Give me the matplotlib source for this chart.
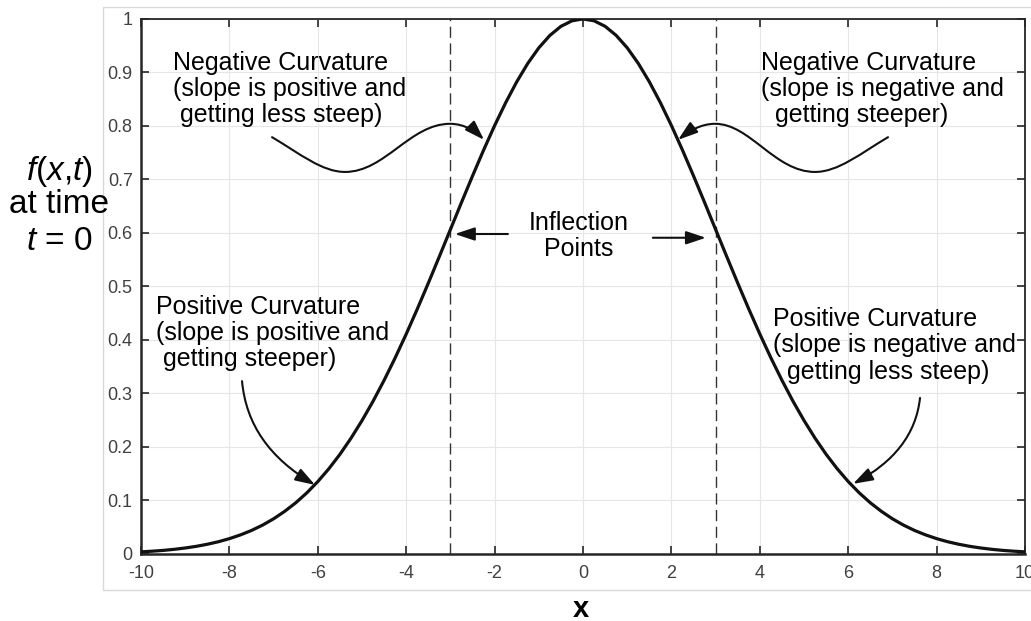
import numpy as np
import matplotlib
matplotlib.use('Agg')
import matplotlib.pyplot as plt
from matplotlib.patches import FancyArrowPatch, Rectangle
from matplotlib.path import Path

plt.rcParams['font.family'] = ['Liberation Sans', 'DejaVu Sans']
plt.rcParams['mathtext.fontset'] = 'custom'
plt.rcParams['mathtext.rm'] = 'Liberation Sans'
plt.rcParams['mathtext.it'] = 'Liberation Sans:italic'
plt.rcParams['axes.unicode_minus'] = False

# courbe f(x, t=0) lue sur la figure, pas de 0.25
x_vals = np.linspace(-10, 10, 81)
f_vals = [0.0039, 0.0051, 0.0066, 0.0086, 0.0111, 0.0142, 0.0181, 0.0228,
          0.0286, 0.0356, 0.0439, 0.0539, 0.0657, 0.0796, 0.0956, 0.1141,
          0.1353, 0.1593, 0.1862, 0.2163, 0.2494, 0.2855, 0.3247, 0.3666,
          0.4111, 0.4578, 0.5063, 0.5561, 0.6065, 0.6570, 0.7066, 0.7548,
          0.8007, 0.8435, 0.8825, 0.9169, 0.9460, 0.9692, 0.9862, 0.9965,
          1.0000,
          0.9965, 0.9862, 0.9692, 0.9460, 0.9169, 0.8825, 0.8435, 0.8007,
          0.7548, 0.7066, 0.6570, 0.6065, 0.5561, 0.5063, 0.4578, 0.4111,
          0.3666, 0.3247, 0.2855, 0.2494, 0.2163, 0.1862, 0.1593, 0.1353,
          0.1141, 0.0956, 0.0796, 0.0657, 0.0539, 0.0439, 0.0356, 0.0286,
          0.0228, 0.0181, 0.0142, 0.0111, 0.0086, 0.0066, 0.0051, 0.0039]

inflexion_x = [-3, 3]

xticks = [-10, -8, -6, -4, -2, 0, 2, 4, 6, 8, 10]
xtick_labels = ['-10', '-8', '-6', '-4', '-2', '0', '2', '4', '6', '8', '10']
yticks = [0, 0.1, 0.2, 0.3, 0.4, 0.5, 0.6, 0.7, 0.8, 0.9, 1]
ytick_labels = ['0', '0.1', '0.2', '0.3', '0.4', '0.5', '0.6', '0.7', '0.8', '0.9', '1']

# textes des annotations
txt_neg_left = "Negative Curvature\n(slope is positive and\n getting less steep)"
txt_neg_right = "Negative Curvature\n(slope is negative and\n  getting steeper)"
txt_pos_left = "Positive Curvature\n(slope is positive and\n getting steeper)"
txt_pos_right = "Positive Curvature\n(slope is negative and\n  getting less steep)"
txt_inflexion = "Inflection\nPoints"

# figure
fig = plt.figure(figsize=(10.31, 6.21), dpi=100)
ax = fig.add_axes([0.1368, 0.108, 0.8574, 0.8615])

# cadre gris clair autour du graphe
fig.add_artist(Rectangle((0.0999, 0.0499), 0.95, 0.9388, transform=fig.transFigure,
                         fill=False, edgecolor='#d9d9d9', linewidth=1, zorder=0))

ax.plot(x_vals, f_vals, color='#111111', linewidth=2.3, zorder=3)
for xi in inflexion_x:
    ax.axvline(xi, color='#333333', linewidth=1, dashes=(8, 4), zorder=2)

ax.set_xlim(-10, 10)
ax.set_ylim(0, 1)
ax.set_xticks(xticks)
ax.set_xticklabels(xtick_labels)
ax.set_yticks(yticks)
ax.set_yticklabels(ytick_labels)
ax.tick_params(direction='in', length=6, width=1.2, top=True, right=True,
               labelsize=13, labelcolor='#404040', color='#262626')
ax.tick_params(axis='x', pad=8)
ax.tick_params(axis='y', pad=6)
ax.grid(True, color='#e6e6e6', linewidth=0.8)
ax.set_axisbelow(True)
for side in ['left', 'bottom']:
    ax.spines[side].set_linewidth(1.8)
    ax.spines[side].set_color('#262626')
for side in ['top', 'right']:
    ax.spines[side].set_linewidth(1.3)
    ax.spines[side].set_color('#262626')

# textes
kw = dict(fontsize=18, va='center', linespacing=1.12)
ax.text(-9.28, 0.869, txt_neg_left, ha='left', **kw)
ax.text(4.03, 0.869, txt_neg_right, ha='left', **kw)
ax.text(-9.66, 0.413, txt_pos_left, ha='left', **kw)
ax.text(4.30, 0.39, txt_pos_right, ha='left', **kw)
ax.text(-0.1, 0.594, txt_inflexion, ha='center', **kw)

# flèches courbes
C4 = Path.CURVE4
style = '-|>,head_length=0.6,head_width=0.2'


def fleche(pts, codes):
    p = FancyArrowPatch(path=Path(pts, codes), arrowstyle=style, mutation_scale=20,
                        color='#111111', linewidth=1.5, transform=ax.transData, zorder=4)
    ax.add_patch(p)


s_left = [(-7.036, 0.779), (-6.403, 0.748), (-5.905, 0.714), (-5.385, 0.714),
          (-4.48, 0.714), (-3.914, 0.804), (-3.009, 0.804),
          (-2.67, 0.804), (-2.42, 0.789), (-2.24, 0.774)]
s_right = [(6.90, 0.779), (6.27, 0.748), (5.77, 0.714), (5.25, 0.714),
           (4.34, 0.714), (3.78, 0.804), (2.99, 0.804),
           (2.65, 0.804), (2.38, 0.789), (2.15, 0.774)]
codes_s = [Path.MOVETO] + [C4] * 9
fleche(s_left, codes_s)
fleche(s_right, codes_s)

c_left = [(-7.715, 0.323), (-7.624, 0.241), (-7.081, 0.179), (-6.063, 0.129)]
c_right = [(7.624, 0.2916), (7.534, 0.2234), (7.036, 0.172), (6.109, 0.131)]
codes_c = [Path.MOVETO, C4, C4, C4]
fleche(c_left, codes_c)
fleche(c_right, codes_c)

# flèches points d'inflexion
ax.annotate('', xy=(-2.90, 0.598), xytext=(-1.70, 0.598),
            arrowprops=dict(arrowstyle=style, mutation_scale=20, color='#111111',
                            linewidth=1.5, shrinkA=0, shrinkB=0))
ax.annotate('', xy=(2.78, 0.591), xytext=(1.58, 0.591),
            arrowprops=dict(arrowstyle=style, mutation_scale=20, color='#111111',
                            linewidth=1.5, shrinkA=0, shrinkB=0))

# étiquettes des axes
fig.text(0.0572, 0.7101, r'$f$($x$,$t$)', fontsize=24, ha='center', va='baseline')
fig.text(0.0572, 0.657, 'at time', fontsize=24, ha='center', va='baseline')
fig.text(0.0572, 0.5974, r'$t$ = 0', fontsize=24, ha='center', va='baseline')
fig.text(0.5635, 0.0064, 'x', fontsize=21, fontweight='bold', ha='center', va='baseline')

fig.savefig('out.png', dpi=100)
